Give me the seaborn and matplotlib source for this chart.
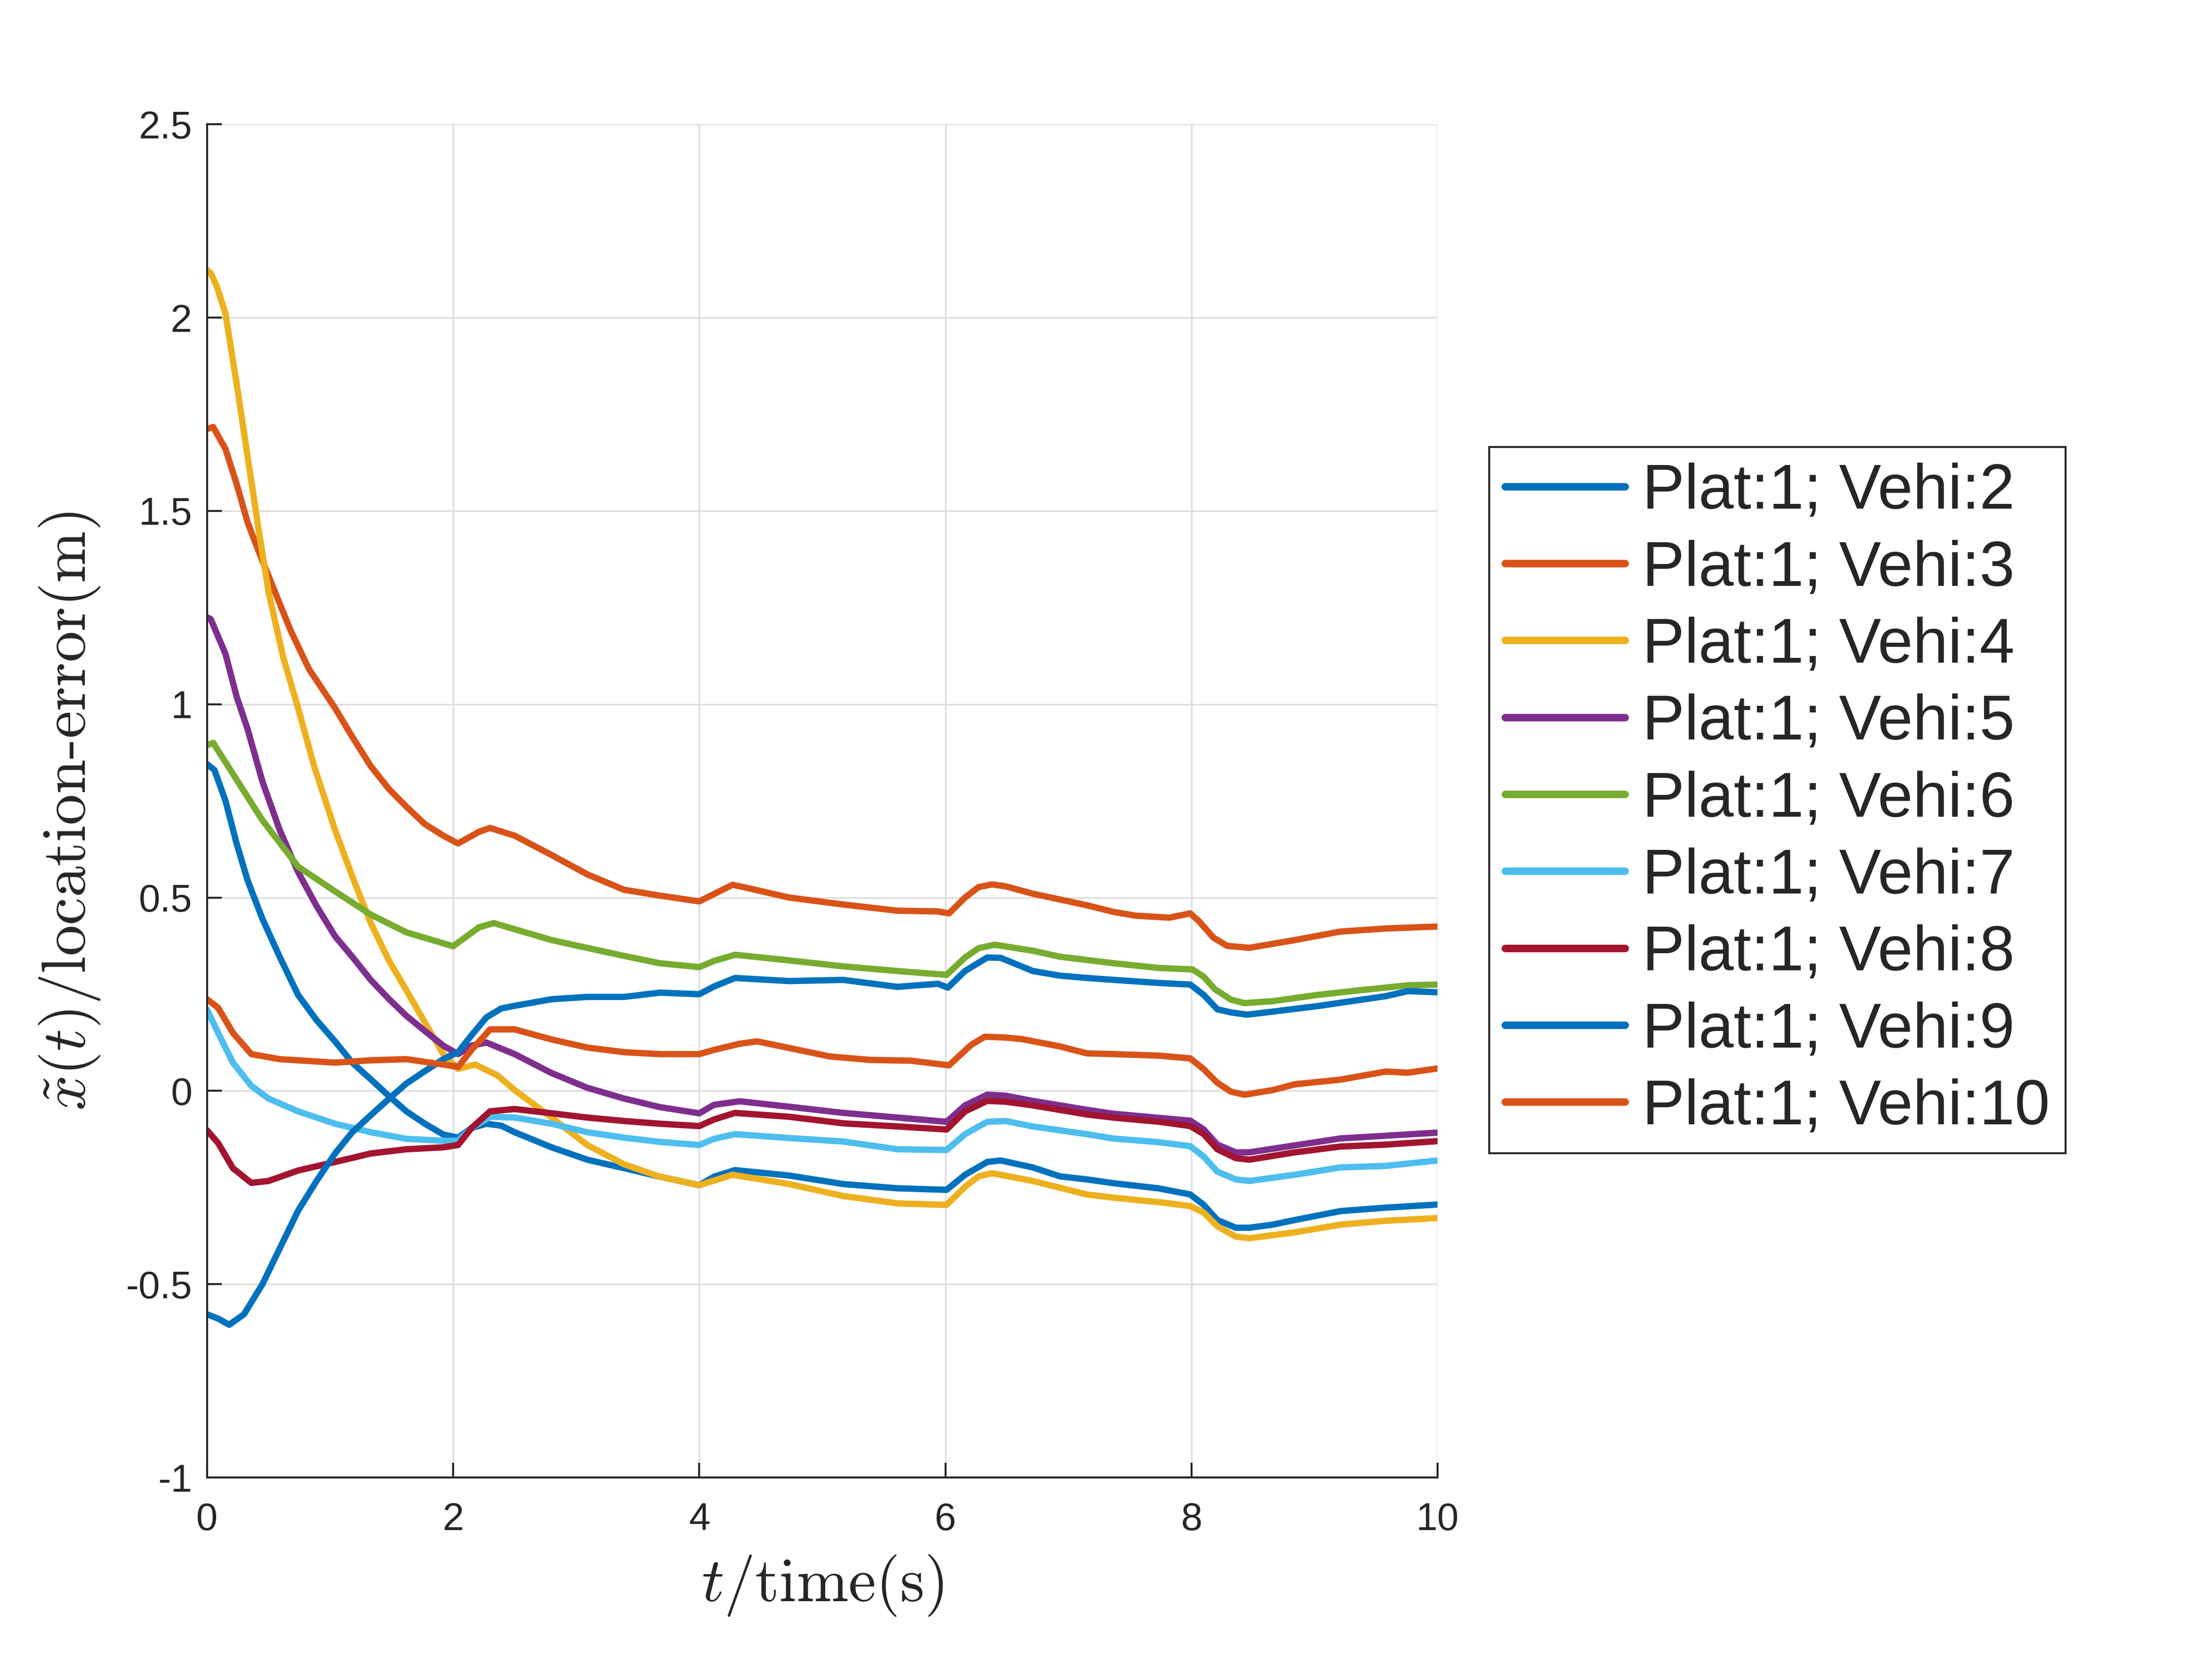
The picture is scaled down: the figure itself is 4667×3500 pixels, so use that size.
import pandas as pd
import seaborn as sns
import matplotlib.pyplot as plt

# readings per vehicle (time, location error)
t_v2 = [0, 0.06, 0.15, 0.24, 0.33, 0.45, 0.59, 0.74, 0.89, 1.04, 1.18, 1.33, 1.48, 1.62, 1.77, 1.92, 2.04, 2.15, 2.27, 2.39, 2.5,
        2.8, 3.09, 3.39, 3.68, 4.0, 4.12, 4.29, 4.73, 5.17, 5.61, 6.01, 6.16, 6.34, 6.45, 6.71, 6.93, 7.15, 7.37, 7.73, 7.99,
        8.1, 8.21, 8.36, 8.47, 8.66, 8.84, 9.21, 9.58, 10.0]
x_v2 = [0.845, 0.83, 0.75, 0.64, 0.544, 0.445, 0.347, 0.248, 0.183, 0.128, 0.073, 0.03, -0.014, -0.053, -0.085, -0.113, -0.121,
        -0.096, -0.085, -0.09, -0.107, -0.146, -0.178, -0.2, -0.222, -0.244, -0.222, -0.205, -0.219, -0.241, -0.252, -0.256,
        -0.217, -0.184, -0.18, -0.198, -0.221, -0.229, -0.239, -0.252, -0.268, -0.295, -0.334, -0.354, -0.354, -0.346, -0.334,
        -0.311, -0.302, -0.294]

t_v3 = [0, 0.05, 0.15, 0.24, 0.33, 0.42, 0.54, 0.68, 0.83, 1.04, 1.18, 1.33, 1.48, 1.62, 1.77, 1.92, 2.04, 2.21, 2.3, 2.5, 2.8,
        3.09, 3.39, 3.68, 4.0, 4.27, 4.36, 4.73, 5.17, 5.61, 5.94, 6.03, 6.16, 6.27, 6.38, 6.49, 6.71, 6.93, 7.15, 7.37, 7.55,
        7.82, 7.99, 8.06, 8.18, 8.29, 8.47, 8.84, 9.21, 9.58, 10.0]
x_v3 = [1.712, 1.717, 1.66, 1.57, 1.47, 1.395, 1.30, 1.19, 1.09, 0.99, 0.916, 0.84, 0.78, 0.735, 0.69, 0.66, 0.64, 0.67, 0.68,
        0.66, 0.61, 0.56, 0.52, 0.505, 0.49, 0.533, 0.527, 0.50, 0.482, 0.466, 0.464, 0.459, 0.50, 0.527, 0.534, 0.529, 0.51,
        0.495, 0.48, 0.4625, 0.453, 0.448, 0.459, 0.439, 0.396, 0.375, 0.37, 0.39, 0.412, 0.42, 0.425]

t_v4 = [0, 0.03, 0.08, 0.15, 0.24, 0.33, 0.42, 0.5, 0.62, 0.74, 0.87, 1.04, 1.18, 1.33, 1.48, 1.62, 1.77, 1.92, 2.04, 2.18, 2.36,
        2.5, 2.8, 3.09, 3.39, 3.68, 4.0, 4.27, 4.73, 5.17, 5.61, 6.01, 6.16, 6.27, 6.38, 6.71, 7.15, 7.36, 7.74, 7.99, 8.1,
        8.21, 8.36, 8.47, 8.84, 9.21, 9.58, 10.0]
x_v4 = [2.123, 2.115, 2.08, 2.01, 1.83, 1.64, 1.45, 1.29, 1.12, 0.99, 0.84, 0.675, 0.555, 0.434, 0.336, 0.26, 0.177, 0.095,
        0.057, 0.068, 0.04, 0.002, -0.069, -0.14, -0.19, -0.222, -0.244, -0.217, -0.241, -0.272, -0.291, -0.295, -0.248,
        -0.221, -0.213, -0.233, -0.268, -0.276, -0.288, -0.298, -0.315, -0.35, -0.377, -0.381, -0.366, -0.346, -0.336, -0.329]

t_v5 = [0, 0.03, 0.15, 0.24, 0.33, 0.45, 0.59, 0.74, 0.89, 1.04, 1.18, 1.33, 1.48, 1.62, 1.77, 1.92, 2.04, 2.15, 2.27, 2.5, 2.8,
        3.09, 3.39, 3.68, 4.0, 4.12, 4.33, 4.73, 5.17, 5.61, 6.01, 6.16, 6.34, 6.49, 6.71, 7.15, 7.36, 7.74, 7.99, 8.1, 8.21,
        8.36, 8.47, 8.84, 9.21, 9.58, 10.0]
x_v5 = [1.225, 1.22, 1.13, 1.02, 0.935, 0.8, 0.675, 0.566, 0.478, 0.40, 0.347, 0.287, 0.237, 0.194, 0.155, 0.117, 0.095, 0.117,
        0.125, 0.095, 0.046, 0.008, -0.02, -0.042, -0.058, -0.036, -0.027, -0.041, -0.057, -0.069, -0.08, -0.0375, -0.01,
        -0.0125, -0.026, -0.049, -0.059, -0.07, -0.077, -0.1, -0.139, -0.159, -0.159, -0.141, -0.123, -0.116, -0.108]

t_v6 = [0, 0.05, 0.21, 0.45, 0.74, 1.04, 1.33, 1.62, 2.0, 2.21, 2.33, 2.5, 2.8, 3.1, 3.39, 3.68, 4.0, 4.12, 4.29, 4.73, 5.17,
        5.61, 6.01, 6.16, 6.27, 6.4, 6.71, 6.93, 7.37, 7.73, 8.01, 8.1, 8.19, 8.32, 8.43, 8.66, 9.02, 9.39, 9.76, 10.0]
x_v6 = [0.894, 0.9, 0.82, 0.70, 0.58, 0.516, 0.456, 0.41, 0.374, 0.423, 0.434, 0.418, 0.39, 0.369, 0.349, 0.33, 0.32, 0.336,
        0.352, 0.3375, 0.322, 0.31, 0.30, 0.345, 0.369, 0.378, 0.3625, 0.347, 0.33, 0.318, 0.314, 0.295, 0.263, 0.236, 0.227,
        0.232, 0.248, 0.261, 0.273, 0.275]

t_v7 = [0, 0.09, 0.21, 0.36, 0.5, 0.74, 1.04, 1.33, 1.62, 1.92, 2.04, 2.15, 2.3, 2.5, 2.8, 3.09, 3.39, 3.68, 4.0, 4.12, 4.29,
        4.73, 5.17, 5.61, 6.01, 6.16, 6.34, 6.49, 6.71, 7.15, 7.36, 7.74, 7.99, 8.1, 8.21, 8.36, 8.47, 8.84, 9.21, 9.58, 10.0]
x_v7 = [0.21, 0.15, 0.073, 0.013, -0.02, -0.053, -0.085, -0.107, -0.124, -0.129, -0.129, -0.096, -0.067, -0.069, -0.085,
        -0.107, -0.121, -0.132, -0.14, -0.124, -0.112, -0.122, -0.131, -0.151, -0.153, -0.112, -0.08, -0.078, -0.092, -0.112,
        -0.123, -0.133, -0.143, -0.17, -0.209, -0.229, -0.233, -0.217, -0.198, -0.194, -0.18]

t_v8 = [0, 0.09, 0.21, 0.36, 0.5, 0.74, 1.04, 1.33, 1.62, 1.92, 2.04, 2.15, 2.3, 2.5, 2.8, 3.09, 3.39, 3.68, 4.0, 4.12, 4.29,
        4.73, 5.17, 5.61, 6.01, 6.16, 6.34, 6.49, 6.71, 7.15, 7.36, 7.74, 7.99, 8.1, 8.21, 8.36, 8.47, 8.84, 9.21, 9.58, 10.0]
x_v8 = [-0.102, -0.135, -0.2, -0.238, -0.233, -0.206, -0.184, -0.162, -0.151, -0.146, -0.14, -0.096, -0.053, -0.047, -0.058,
        -0.069, -0.078, -0.085, -0.091, -0.074, -0.057, -0.067, -0.084, -0.092, -0.1, -0.053, -0.026, -0.028, -0.0375, -0.061,
        -0.069, -0.08, -0.091, -0.112, -0.151, -0.174, -0.178, -0.159, -0.144, -0.139, -0.13]

t_v9 = [0, 0.09, 0.18, 0.3, 0.45, 0.59, 0.74, 0.89, 1.04, 1.18, 1.33, 1.48, 1.62, 1.77, 1.92, 2.04, 2.15, 2.27, 2.39, 2.5, 2.8,
        3.09, 3.39, 3.68, 4.0, 4.12, 4.29, 4.73, 5.17, 5.61, 5.94, 6.02, 6.16, 6.34, 6.45, 6.71, 6.93, 7.15, 7.37, 7.74, 7.99,
        8.1, 8.21, 8.32, 8.45, 8.66, 9.02, 9.3, 9.58, 9.76, 10.0]
x_v9 = [-0.578, -0.589, -0.605, -0.578, -0.50, -0.408, -0.31, -0.233, -0.162, -0.107, -0.063, -0.02, 0.019, 0.051, 0.082, 0.10,
        0.144, 0.19, 0.213, 0.22, 0.237, 0.243, 0.243, 0.254, 0.25, 0.27, 0.292, 0.284, 0.287, 0.269, 0.277, 0.267, 0.31, 0.345,
        0.344, 0.31, 0.298, 0.292, 0.287, 0.279, 0.275, 0.248, 0.211, 0.203, 0.197, 0.205, 0.219, 0.232, 0.245, 0.258, 0.255]

t_v10 = [0, 0.09, 0.21, 0.36, 0.59, 1.04, 1.33, 1.62, 1.92, 2.04, 2.15, 2.3, 2.5, 2.8, 3.09, 3.39, 3.68, 4.0, 4.12, 4.33, 4.47,
         4.73, 5.06, 5.39, 5.72, 6.03, 6.21, 6.32, 6.49, 6.62, 6.93, 7.15, 7.37, 7.74, 7.99, 8.1, 8.21, 8.32, 8.43, 8.66, 8.84,
         9.21, 9.58, 9.76, 10.0]
x_v10 = [0.237, 0.215, 0.15, 0.095, 0.082, 0.073, 0.079, 0.082, 0.068, 0.062, 0.106, 0.159, 0.159, 0.133, 0.112, 0.10, 0.095,
         0.095, 0.106, 0.122, 0.128, 0.111, 0.089, 0.08, 0.078, 0.066, 0.119, 0.14, 0.138, 0.134, 0.115, 0.097, 0.095, 0.091,
         0.084, 0.056, 0.021, -0.002, -0.01, 0.002, 0.017, 0.029, 0.05, 0.047, 0.058]

labels = ["Plat:1; Vehi:2", "Plat:1; Vehi:3", "Plat:1; Vehi:4", "Plat:1; Vehi:5", "Plat:1; Vehi:6",
          "Plat:1; Vehi:7", "Plat:1; Vehi:8", "Plat:1; Vehi:9", "Plat:1; Vehi:10"]
colors = ["#0072BD", "#D95319", "#EDB120", "#7E2F8E", "#77AC30", "#4DBEEE", "#A2142F", "#0072BD", "#D95319"]

series = [(t_v2, x_v2), (t_v3, x_v3), (t_v4, x_v4), (t_v5, x_v5), (t_v6, x_v6),
          (t_v7, x_v7), (t_v8, x_v8), (t_v9, x_v9), (t_v10, x_v10)]

frames = []
for lab, (t, x) in zip(labels, series):
    frames.append(pd.DataFrame({"t": t, "x": x, "veh": lab}))
df = pd.concat(frames, ignore_index=True)

sns.set_style("white")
plt.rcParams["font.family"] = ["Liberation Sans", "DejaVu Sans"]
plt.rcParams["mathtext.fontset"] = "cm"

fig = plt.figure(figsize=(4667 / 300, 3500 / 300), dpi=300)
ax = fig.add_axes([0.0936, 0.1094, 0.5563, 0.8157])

palette = dict(zip(labels, colors))
sns.lineplot(data=df, x="t", y="x", hue="veh", hue_order=labels, palette=palette,
             estimator=None, sort=False, linewidth=3.2, ax=ax)

ax.set_xlim(0, 10)
ax.set_ylim(-1, 2.5)
ax.set_xticks([0, 2, 4, 6, 8, 10])
ax.set_yticks([-1, -0.5, 0, 0.5, 1, 1.5, 2, 2.5])
ax.set_yticklabels(["-1", "-0.5", "0", "0.5", "1", "1.5", "2", "2.5"])
ax.grid(True, color="#dcdcdc", linewidth=0.8)
ax.set_axisbelow(True)
for s in ["top", "right"]:
    ax.spines[s].set_visible(False)
for s in ["left", "bottom"]:
    ax.spines[s].set_color("#262626")
    ax.spines[s].set_linewidth(1.0)
ax.tick_params(direction="in", length=7.5, width=1.0, colors="#262626", labelsize=19.5,
               left=True, bottom=True)
ax.tick_params(axis="x", pad=12.5)
ax.tick_params(axis="y", pad=7.5)

ax.set_xlabel(r"$t/\mathrm{time(s)}$", fontsize=31.5, color="#262626")
ax.set_ylabel(r"$\tilde{x}(t)/\mathrm{location\text{-}error(m)}$", fontsize=31.5, color="#262626")
ax.xaxis.set_label_coords(0.5, -0.056)
ax.yaxis.set_label_coords(-0.0855, 0.4925)

handles, labs = ax.get_legend_handles_labels()
leg = ax.legend(handles, labs, loc="center", bbox_to_anchor=(0.8036, 0.5177), bbox_transform=fig.transFigure,
                fontsize=32, frameon=True, fancybox=False, framealpha=1, edgecolor="#262626",
                handlelength=1.9, handletextpad=0.27, labelspacing=0.28, borderpad=0.25, borderaxespad=0)
leg.get_frame().set_linewidth(1.0)
for h in leg.get_lines():
    h.set_linewidth(3.8)

fig.savefig("out.png", dpi=300)
